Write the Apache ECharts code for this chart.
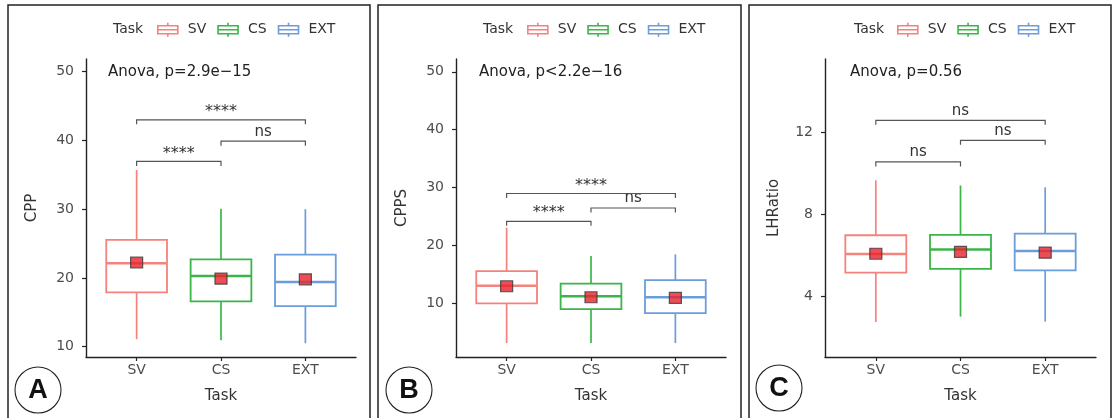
<!DOCTYPE html>
<html>
<head>
<meta charset="utf-8">
<script src="https://cdn.jsdelivr.net/npm/echarts@6/dist/echarts.min.js"></script>
<style>
  html, body { margin: 0; padding: 0; background: #fff; }
  #chart { width: 1113px; height: 418px; }
</style>
</head>
<body>
<div id="chart"></div>
<script>
// Tasks on the x axis
const categories = ['SV', 'CS', 'EXT'];

// Box summaries per task: [lower whisker, Q1, median, Q3, upper whisker]
const cppBox  = [[11.1, 17.9, 22.15, 25.55, 35.7], [10.95, 16.6, 20.3, 22.7, 30.05], [10.5, 15.9, 19.4, 23.4, 30.0]];
const cppsBox = [[3.2, 10.05, 13.1, 15.6, 23.1], [3.2, 9.07, 11.26, 13.45, 18.2], [3.2, 8.38, 11.09, 14.07, 18.5]];
const lhrBox  = [[2.75, 5.16, 6.07, 6.98, 9.66], [3.01, 5.34, 6.28, 7.0, 9.41], [2.77, 5.27, 6.21, 7.06, 9.32]];

// Group means
const cppMean  = [22.25, 19.9, 19.8];
const cppsMean = [13.0, 11.1, 11.0];
const lhrMean  = [6.08, 6.17, 6.13];

// Pairwise comparisons: [first task (1-based), second task, bracket height]
const cppBrackets  = [[1, 2, 36.95], [2, 3, 39.9], [1, 3, 43.0]];
const cppsBrackets = [[1, 2, 24.2], [2, 3, 26.5], [1, 3, 29.0]];
const lhrBrackets  = [[1, 2, 10.56], [2, 3, 11.61], [1, 3, 12.59]];
const cppSig  = ['****', 'ns', '****'];
const cppsSig = ['****', 'ns', '****'];
const lhrSig  = ['ns', 'ns', 'ns'];

// Axis ticks and ranges
const cppTicks  = [10, 20, 30, 40, 50];
const cppsTicks = [10, 20, 30, 40, 50];
const lhrTicks  = [4, 8, 12];
const cppRange  = [8.5, 51.85];
const cppsRange = [0.8, 52.2];
const lhrRange  = [1.04, 15.58];

const anovaLabels = ['Anova, p=2.9e\u221215', 'Anova, p<2.2e\u221216', 'Anova, p=0.56'];
const yNames = ['CPP', 'CPPS', 'LHRatio'];
const panelTags = ['A', 'B', 'C'];

const FONT = '"DejaVu Sans", sans-serif';
const taskColors = ['#F4827D', '#3BB54A', '#6C9DDB'];

const panels = [
  { box: cppBox,  mean: cppMean,  br: cppBrackets,  sig: cppSig,  ticks: cppTicks,  range: cppRange,
    grid: { left: 86, top: 59, width: 270, height: 298 }, frame: [8, 362], legendLeft: 157, taskLeft: 113, anovaLeft: 108, tag: [38, 390], nameGap: 46 },
  { box: cppsBox, mean: cppsMean, br: cppsBrackets, sig: cppsSig, ticks: cppsTicks, range: cppsRange,
    grid: { left: 456, top: 59, width: 270, height: 298 }, frame: [378, 363], legendLeft: 527, taskLeft: 483, anovaLeft: 479, tag: [409, 390], nameGap: 46 },
  { box: lhrBox,  mean: lhrMean,  br: lhrBrackets,  sig: lhrSig,  ticks: lhrTicks,  range: lhrRange,
    grid: { left: 825, top: 59, width: 271, height: 298 }, frame: [749, 362], legendLeft: 897, taskLeft: 854, anovaLeft: 850, tag: [779, 388], nameGap: 43 }
];

// Legend glyph: box with median line and whisker stubs
const boxIcon = 'path://M10,0 L10,3 M0,3 L20,3 L20,11 L0,11 Z M0,7 L20,7 M10,11 L10,14';

const grids = [], xAxes = [], yAxes = [], series = [], legends = [], graphics = [];

panels.forEach((p, pi) => {
  grids.push(p.grid);
  xAxes.push({
    gridIndex: pi, type: 'value', min: 0.4, max: 3.6,
    axisLine: { show: true, onZero: false, lineStyle: { color: '#222', width: 1.4 } },
    axisTick: { show: true, length: 4, customValues: [1, 2, 3], lineStyle: { color: '#222', width: 1.2 } },
    axisLabel: { customValues: [1, 2, 3], formatter: v => categories[Math.round(v) - 1], margin: 6,
                 color: '#4D4D4D', fontSize: 14, fontFamily: FONT },
    splitLine: { show: false },
    name: 'Task', nameLocation: 'middle', nameGap: 32,
    nameTextStyle: { color: '#333', fontSize: 15, fontFamily: FONT }
  });
  yAxes.push({
    gridIndex: pi, type: 'value', min: p.range[0], max: p.range[1],
    axisLine: { show: true, onZero: false, lineStyle: { color: '#222', width: 1.4 } },
    axisTick: { show: true, length: 4, customValues: p.ticks, lineStyle: { color: '#222', width: 1.2 } },
    axisLabel: { customValues: p.ticks, margin: 12, color: '#4D4D4D', fontSize: 14, fontFamily: FONT },
    splitLine: { show: false },
    name: yNames[pi], nameLocation: 'middle', nameGap: p.nameGap, nameRotate: 90,
    nameTextStyle: { color: '#333', fontSize: 15, fontFamily: FONT }
  });

  // Boxes (whiskers without caps, as drawn by ggplot)
  categories.forEach((cat, ci) => {
    const b = p.box[ci];
    series.push({
      name: cat, type: 'custom', xAxisIndex: pi, yAxisIndex: pi,
      itemStyle: { color: taskColors[ci] },
      data: [[ci + 1, b[0], b[1], b[2], b[3], b[4]]],
      renderItem: (params, api) => {
        const x = api.value(0);
        const half = api.size([0.72, 0])[0] / 2;
        const lo = api.coord([x, api.value(1)]);
        const q1 = api.coord([x, api.value(2)]);
        const md = api.coord([x, api.value(3)]);
        const q3 = api.coord([x, api.value(4)]);
        const hi = api.coord([x, api.value(5)]);
        const c = taskColors[ci];
        const line = { stroke: c, lineWidth: 1.7 };
        return { type: 'group', children: [
          { type: 'line', shape: { x1: hi[0], y1: hi[1], x2: q3[0], y2: q3[1] }, style: line },
          { type: 'line', shape: { x1: q1[0], y1: q1[1], x2: lo[0], y2: lo[1] }, style: line },
          { type: 'rect', shape: { x: q3[0] - half, y: q3[1], width: half * 2, height: q1[1] - q3[1] },
            style: { fill: '#fff', stroke: c, lineWidth: 1.8 } },
          { type: 'line', shape: { x1: md[0] - half, y1: md[1], x2: md[0] + half, y2: md[1] },
            style: { stroke: c, lineWidth: 2.5 } }
        ] };
      }
    });
  });

  // Means
  series.push({
    name: 'mean', type: 'scatter', xAxisIndex: pi, yAxisIndex: pi, z: 5,
    symbol: 'rect', symbolSize: [12, 11],
    itemStyle: { color: '#E8222A', borderColor: '#3a3a3a', borderWidth: 1.2 },
    data: p.mean.map((m, i) => [i + 1, m])
  });

  // Significance brackets
  series.push({
    name: 'brackets', type: 'custom', xAxisIndex: pi, yAxisIndex: pi, z: 4,
    data: p.br,
    renderItem: (params, api) => {
      const a = api.coord([api.value(0), api.value(2)]);
      const b = api.coord([api.value(1), api.value(2)]);
      const tip = 4.5;
      const label = p.sig[params.dataIndex];
      const stars = label.indexOf('*') >= 0;
      return { type: 'group', children: [
        { type: 'polyline', shape: { points: [[a[0], a[1] + tip], [a[0], a[1]], [b[0], b[1]], [b[0], b[1] + tip]] },
          style: { stroke: '#555', lineWidth: 1.2, fill: null } },
        { type: 'text', x: (a[0] + b[0]) / 2, y: a[1] - (stars ? 0 : 2),
          style: { text: label, align: 'center', verticalAlign: 'bottom',
                   fill: '#333', fontSize: stars ? 16 : 15, fontFamily: FONT } }
      ] };
    }
  });

  legends.push({
    left: p.legendLeft, top: 22, padding: 0, itemWidth: 20, itemHeight: 14, itemGap: 11,
    selectedMode: false,
    textStyle: { color: '#333', fontSize: 14, fontFamily: FONT, padding: [0, 0, 0, 5] },
    data: categories.map((cat, ci) => ({
      name: cat, icon: boxIcon,
      itemStyle: { color: 'rgba(0,0,0,0)', borderColor: taskColors[ci], borderWidth: 1.6 }
    }))
  });

  graphics.push(
    { type: 'rect', shape: { x: p.frame[0], y: 5, width: p.frame[1], height: 440 },
      style: { fill: null, stroke: '#222', lineWidth: 1.5 }, silent: true },
    { type: 'text', x: p.taskLeft, y: 29,
      style: { text: 'Task', fill: '#333', fontSize: 14, fontFamily: FONT, verticalAlign: 'middle' } },
    { type: 'text', x: p.anovaLeft, y: 72,
      style: { text: anovaLabels[pi], fill: '#222', fontSize: 15, fontFamily: FONT, verticalAlign: 'middle' } },
    { type: 'circle', shape: { cx: p.tag[0], cy: p.tag[1], r: 23 },
      style: { fill: '#fff', stroke: '#222', lineWidth: 1.1 } },
    { type: 'text', x: p.tag[0], y: p.tag[1] + 1,
      style: { text: panelTags[pi], fill: '#111', fontSize: 27, fontWeight: 'bold',
               fontFamily: '"Liberation Sans", Arial, sans-serif', align: 'center', verticalAlign: 'middle' } }
  );
});

const chart = echarts.init(document.getElementById('chart'), null, { renderer: 'canvas' });
chart.setOption({
  backgroundColor: '#fff',
  animation: false,
  grid: grids,
  xAxis: xAxes,
  yAxis: yAxes,
  legend: legends,
  series: series,
  graphic: graphics
});
</script>
</body>
</html>
